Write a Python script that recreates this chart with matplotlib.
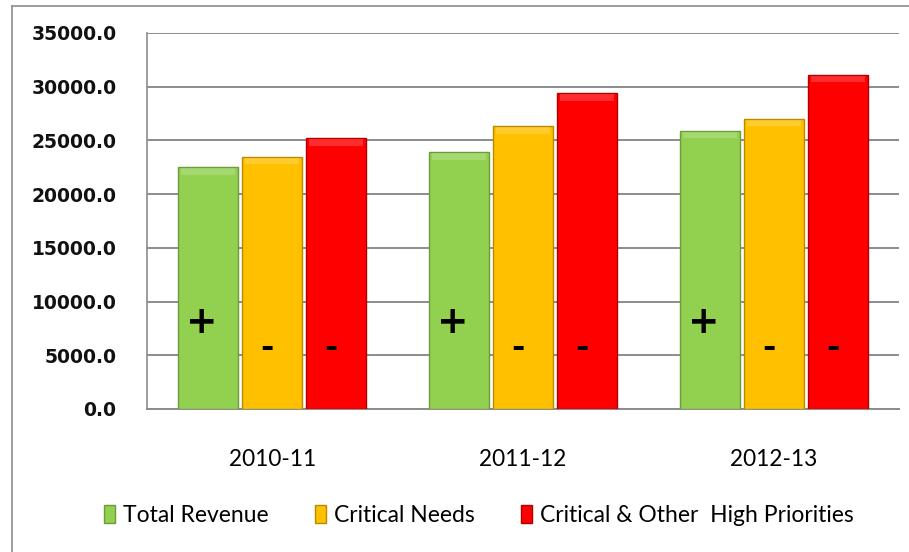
import matplotlib
matplotlib.use("Agg")
import matplotlib.pyplot as plt
from matplotlib.lines import Line2D
import numpy as np

years = ["2010-11", "2011-12", "2012-13"]
total_revenue = [22500, 23900, 25900]
critical_needs = [23500, 26300, 27000]
critical_other = [25200, 29400, 31100]
series_names = ["Total Revenue", "Critical Needs", "Critical & Other  High Priorities"]
signs = ["+", "-", "-"]

colors = ["#92D050", "#FFC000", "#FF0000"]
edges = ["#6E9A3C", "#B88A00", "#B00000"]

fig = plt.figure(figsize=(9.09, 5.52), dpi=100)
ax = fig.add_axes([0.1617, 0.2591, 0.8273, 0.6812])

x = np.arange(len(years))
pitch = 0.255
width = 0.239
data = [total_revenue, critical_needs, critical_other]

handles = []
for i, vals in enumerate(data):
    pos = x + (i - 1) * pitch
    b = ax.bar(pos, vals, width, color=colors[i], edgecolor=edges[i],
               linewidth=1.0, zorder=3, label=series_names[i])
    handles.append(b)
    # lighter band at the top to mimic the bevel
    ax.bar(pos, [600] * len(vals), width * 0.9, bottom=np.array(vals) - 700,
           color="white", alpha=0.18, linewidth=0, zorder=4)
    for p in pos:
        if signs[i] == "+":
            ax.text(p - 0.025, 8000, "+", ha="center", va="center",
                    fontsize=27, fontweight="bold", color="black", zorder=5)
        else:
            ax.text(p - 0.02, 5600, "-", ha="center", va="center",
                    fontsize=23, fontweight="bold", color="black", zorder=5)

ax.set_xlim(-0.5, 2.5)
ax.set_ylim(0, 35000)
ax.set_yticks(np.arange(0, 35001, 5000))
ax.set_yticklabels(["%.1f" % v for v in np.arange(0, 35001, 5000)],
                   fontsize=13.5, fontweight="bold", color="#111111")
ax.set_xticks(x)
ax.set_xticklabels(years, fontsize=16.3, family="Lato", color="black")
ax.tick_params(axis="y", length=0, pad=22)
ax.tick_params(axis="x", length=0, pad=29)

ax.grid(axis="y", color="#8C8C8C", linewidth=1.4, zorder=0)
ax.set_axisbelow(True)
for s in ["top", "right"]:
    ax.spines[s].set_visible(False)
ax.spines["left"].set_color("#8C8C8C")
ax.spines["bottom"].set_color("#8C8C8C")
ax.spines["left"].set_linewidth(1.2)
ax.spines["bottom"].set_linewidth(1.4)

leg = fig.legend(handles=handles, labels=series_names, loc="center",
                 bbox_to_anchor=(0.527, 0.066), ncol=3, frameon=False,
                 prop={"family": "Lato", "size": 16.5}, handlelength=0.5,
                 handleheight=0.85, handletextpad=0.35, columnspacing=2.0)
for t in leg.get_texts():
    t.set_color("black")

# outer chart frame
fig.add_artist(Line2D([12 / 909, 12 / 909], [0, 1 - 6 / 552],
                      transform=fig.transFigure, color="#8C8C8C", linewidth=1.2))
fig.add_artist(Line2D([12 / 909, 1], [1 - 6 / 552, 1 - 6 / 552],
                      transform=fig.transFigure, color="#8C8C8C", linewidth=1.2))

fig.savefig("out.png", dpi=100)
